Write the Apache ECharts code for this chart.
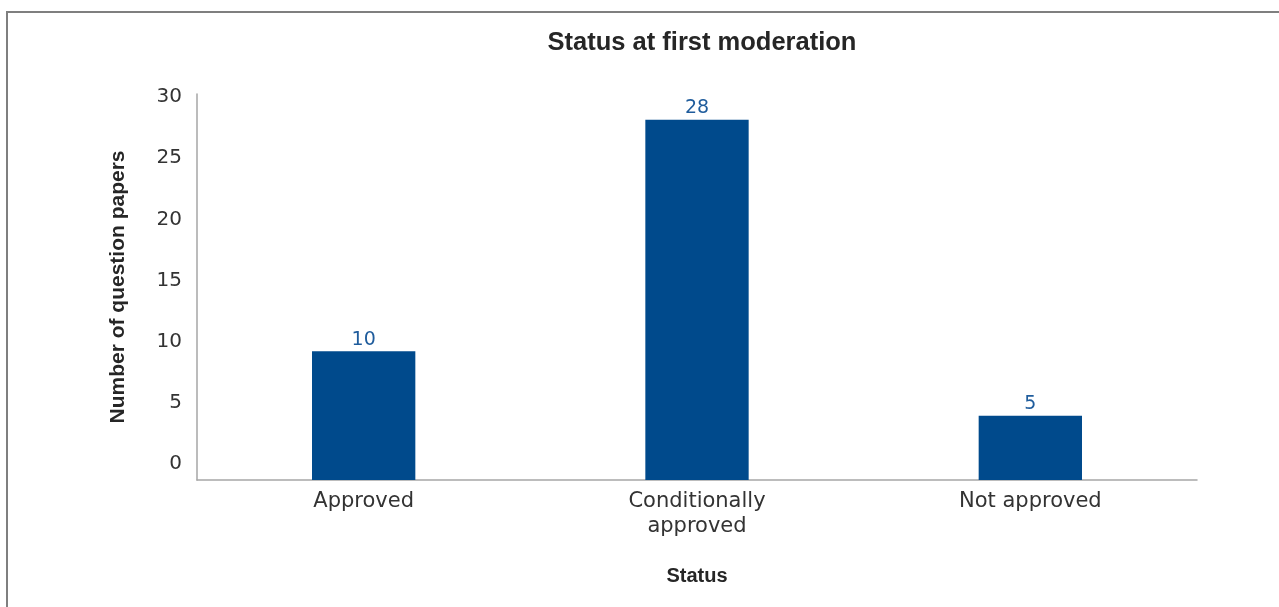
<!DOCTYPE html>
<html>
<head>
<meta charset="utf-8">
<script src="https://cdn.jsdelivr.net/npm/echarts@6/dist/echarts.min.js"></script>
<style>
html,body{margin:0;padding:0;background:#fff;}
#frame{position:absolute;left:6px;top:11px;width:1273px;height:596px;border-top:2px solid #7f7f7f;border-left:2px solid #7f7f7f;box-sizing:border-box;}
#chart{position:absolute;left:0;top:0;width:1279px;height:607px;}
</style>
</head>
<body>
<div id="frame"></div>
<div id="chart"></div>
<script>
const titleText = 'Status at first moderation';
const xAxisTitle = 'Status';
const yAxisTitle = 'Number of question papers';
const categories = ['Approved', 'Conditionally\napproved', 'Not approved'];
const values = [10, 28, 5];
const yTicks = [0, 5, 10, 15, 20, 25, 30];

const labelFont = 'DejaVu Sans';
const chart = echarts.init(document.getElementById('chart'));
chart.setOption({
  animation: false,
  backgroundColor: 'transparent',
  title: {
    text: titleText,
    left: 697, top: 25, textAlign: 'center',
    textStyle: {fontFamily: 'Liberation Sans', fontWeight: 'bold', fontSize: 25.5, color: '#262626'}
  },
  grid: [
    {left: 197, right: 82, top: 94, bottom: 127},
    {left: 197, right: 82, top: 97, bottom: 143}
  ],
  xAxis: [
    {
      type: 'category', gridIndex: 0, data: categories,
      axisLine: {show: true, lineStyle: {color: '#a6a6a6', width: 1.5}},
      axisTick: {show: false},
      axisLabel: {fontFamily: labelFont, fontSize: 21, color: '#333', margin: 9, lineHeight: 25},
      name: xAxisTitle, nameLocation: 'middle', nameGap: 86,
      nameTextStyle: {fontFamily: 'Liberation Sans', fontWeight: 'bold', fontSize: 20, color: '#262626'}
    },
    {type: 'category', gridIndex: 1, data: categories, show: false}
  ],
  yAxis: [
    {
      type: 'value', gridIndex: 0, min: 0, max: 30, interval: 5,
      axisLine: {show: true, lineStyle: {color: '#a6a6a6', width: 1.5}},
      axisTick: {show: false}, splitLine: {show: false},
      axisLabel: {show: false},
      name: yAxisTitle, nameLocation: 'middle', nameGap: 68, nameRotate: 90,
      nameTextStyle: {fontFamily: 'Liberation Sans', fontWeight: 'bold', fontSize: 21, color: '#262626'}
    },
    {
      type: 'value', gridIndex: 1, min: yTicks[0], max: yTicks[yTicks.length - 1], interval: 5,
      axisLine: {show: false}, axisTick: {show: false}, splitLine: {show: false},
      axisLabel: {fontFamily: labelFont, fontSize: 20, color: '#333', margin: 15}
    }
  ],
  series: [{
    type: 'bar', xAxisIndex: 0, yAxisIndex: 0,
    data: values,
    barWidth: '31%',
    itemStyle: {color: '#004a8c'},
    label: {show: true, position: 'top', distance: 2, fontFamily: labelFont, fontSize: 19, color: '#1f5c9c'}
  }]
});
</script>
</body>
</html>
